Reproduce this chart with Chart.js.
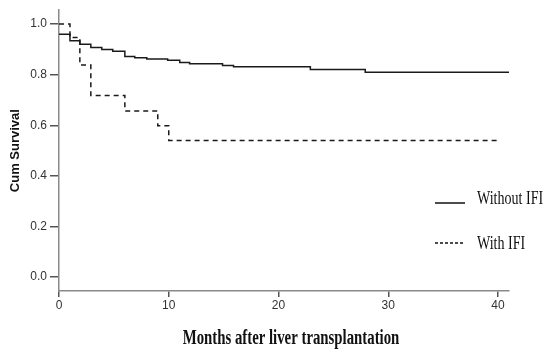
<!DOCTYPE html>
<html>
<head>
<meta charset="utf-8">
<script src="https://cdn.jsdelivr.net/npm/chart.js@4"></script>
<style>
  html, body { margin: 0; padding: 0; background: #fff; }
  #wrap { width: 550px; height: 355px; position: relative; }
</style>
</head>
<body>
<div id="wrap"><canvas id="kmChart"></canvas></div>
<script>
// Kaplan-Meier curves
const monthsWithout = [0, 1, 1.9, 2.9, 3.9, 4.9, 6, 6.9, 8, 9.9, 11, 11.9, 14.9, 15.9, 22.9, 27.9, 41];
const survWithout   = [0.96, 0.934, 0.92, 0.908, 0.90, 0.893, 0.872, 0.867, 0.862, 0.857, 0.848, 0.843, 0.836, 0.831, 0.821, 0.81, 0.81];
const monthsWith = [0, 1, 1.9, 2.9, 6, 9, 10, 40];
const survWith   = [1.0, 0.947, 0.838, 0.718, 0.657, 0.598, 0.54, 0.54];

const seriesNames = ['Without IFI', 'With IFI'];
const xTicks = [0, 10, 20, 30, 40];
const yTicks = [0.0, 0.2, 0.4, 0.6, 0.8, 1.0];
const xTitle = 'Months after liver transplantation';
const yTitle = 'Cum Survival';

const toPoints = (xs, ys) => xs.map((x, i) => ({ x: x, y: ys[i] }));

// legend and x title drawn by hand (the reference uses a narrow serif)
const annotations = {
    id: 'annotations',
    afterDraw(chart) {
        const ctx = chart.ctx;
        ctx.save();
        ctx.fillStyle = '#111';
        ctx.textBaseline = 'middle';

        // x axis title
        ctx.save();
        ctx.font = 'bold 20px "Liberation Serif", "Times New Roman", serif';
        ctx.textAlign = 'center';
        ctx.translate(291, 339);
        ctx.scale(0.74, 1);
        ctx.fillText(xTitle, 0, 0);
        ctx.restore();

        // legend
        const rows = [
            { label: seriesNames[0], dash: [], ly: 203, ty: 199.5 },
            { label: seriesNames[1], dash: [3, 2], ly: 243, ty: 244.5 }
        ];
        rows.forEach(r => {
            ctx.beginPath();
            ctx.setLineDash(r.dash);
            ctx.lineWidth = 1.5;
            ctx.strokeStyle = '#111';
            ctx.moveTo(435, r.ly);
            ctx.lineTo(465, r.ly);
            ctx.stroke();
            ctx.setLineDash([]);
            ctx.save();
            ctx.font = '18px "Liberation Serif", "Times New Roman", serif';
            ctx.textAlign = 'left';
            ctx.translate(477, r.ty);
            ctx.scale(0.78, 1);
            ctx.fillText(r.label, 0, 0);
            ctx.restore();
        });
        ctx.restore();
    }
};

new Chart(document.getElementById('kmChart'), {
    type: 'line',
    data: {
        datasets: [
            {
                label: seriesNames[0],
                data: toPoints(monthsWithout, survWithout),
                stepped: true,
                borderColor: '#1a1a1a',
                borderWidth: 1.5,
                pointRadius: 0,
                fill: false
            },
            {
                label: seriesNames[1],
                data: toPoints(monthsWith, survWith),
                stepped: true,
                borderColor: '#1a1a1a',
                borderWidth: 1.5,
                borderDash: [5, 4],
                pointRadius: 0,
                fill: false
            }
        ]
    },
    options: {
        responsive: true,
        maintainAspectRatio: false,
        animation: false,
        layout: { padding: { top: 5, right: 41, left: 0, bottom: 0 } },
        plugins: { legend: { display: false }, tooltip: { enabled: false } },
        scales: {
            x: {
                type: 'linear',
                min: 0,
                max: 41,
                afterBuildTicks: s => { s.ticks = xTicks.map(v => ({ value: v })); },
                afterFit: s => { s.height = 64; },
                border: { display: true, color: '#8a8a8a', width: 1.5 },
                grid: { drawOnChartArea: false, drawTicks: true, tickLength: 6, color: '#555', lineWidth: 1.5 },
                ticks: {
                    padding: 1,
                    color: '#333',
                    maxRotation: 0,
                    font: { family: 'Arial, "Liberation Sans", sans-serif', size: 12 }
                }
            },
            y: {
                type: 'linear',
                min: -0.055,
                max: 1.055,
                afterBuildTicks: s => { s.ticks = yTicks.map(v => ({ value: v })); },
                afterFit: s => { s.width = 59; },
                border: { display: true, color: '#8a8a8a', width: 1.5 },
                grid: { drawOnChartArea: false, drawTicks: true, tickLength: 9, color: '#555', lineWidth: 1.5 },
                ticks: {
                    padding: 3,
                    color: '#333',
                    callback: v => v.toFixed(1),
                    font: { family: 'Arial, "Liberation Sans", sans-serif', size: 12 }
                },
                title: {
                    display: true,
                    text: yTitle,
                    color: '#111',
                    padding: { top: 8, bottom: 0 },
                    font: { family: 'Arial, "Liberation Sans", sans-serif', size: 13, weight: 'bold' }
                }
            }
        }
    },
    plugins: [annotations]
});
</script>
</body>
</html>
